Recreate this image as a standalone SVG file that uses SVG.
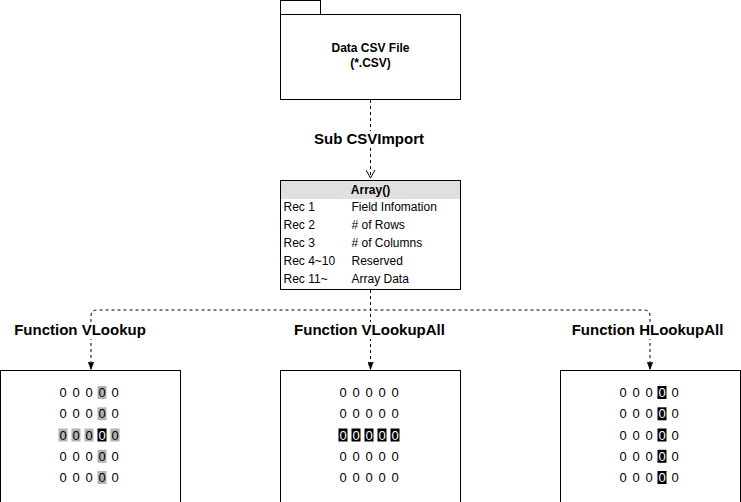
<svg xmlns="http://www.w3.org/2000/svg" width="741" height="502" viewBox="0 0 741 502">
<style>
  .box{fill:#ffffff;stroke:#000000;stroke-width:1}
  .lbl{font-family:"Liberation Sans",Arial,sans-serif;font-weight:bold;font-size:15px;fill:#000;text-anchor:middle}
  .lblbg{fill:#ffffff}
  .t12{font-family:"Liberation Sans",Arial,sans-serif;font-size:12px;fill:#000}
  .b12{font-family:"Liberation Sans",Arial,sans-serif;font-size:12px;font-weight:bold;fill:#000;text-anchor:middle}
  .dg{font-family:"Liberation Sans",Arial,sans-serif;font-size:13px;fill:#000;text-anchor:middle}
  .dw{font-family:"Liberation Sans",Arial,sans-serif;font-size:13px;fill:#fff;text-anchor:middle}
  .conn{fill:none;stroke:#000;stroke-width:1;stroke-dasharray:3 3}
  .hg{fill:#b3b3b3}
  .hb{fill:#000}
</style>
<defs>
  <marker id="open" viewBox="0 0 10 10" refX="9" refY="5" markerWidth="10" markerHeight="10" markerUnits="userSpaceOnUse" orient="auto">
    <path d="M1,0.5 L9,5 L1,9.5" fill="none" stroke="#000" stroke-width="1"/>
  </marker>
  <marker id="block" viewBox="0 0 8 6" refX="7.5" refY="3" markerWidth="8" markerHeight="6" markerUnits="userSpaceOnUse" orient="auto">
    <path d="M0,0 L8,3 L0,6 L1.5,3 Z" fill="#000" stroke="#000" stroke-width="0.5"/>
  </marker>
</defs>

<g id="data-csv-file">
  <rect class="box" x="280.5" y="0.5" width="40" height="14"/>
  <rect class="box" x="280.5" y="14.5" width="180" height="85"/>
  <text class="b12" x="370.5" y="52">Data CSV File</text>
  <text class="b12" x="370.5" y="66.5">(*.CSV)</text>
</g>

<g id="array">
  <rect class="box" x="280.5" y="180.5" width="180" height="109"/>
  <rect x="281" y="181" width="179" height="18" fill="#e0e0e0"/>
  <text class="b12" x="370.5" y="194">Array()</text>
  <text class="t12" x="283.5" y="210.5">Rec 1</text>
  <text class="t12" x="351.5" y="210.5">Field Infomation</text>
  <text class="t12" x="283.5" y="228.5">Rec 2</text>
  <text class="t12" x="351.5" y="228.5"># of Rows</text>
  <text class="t12" x="283.5" y="246.5">Rec 3</text>
  <text class="t12" x="351.5" y="246.5"># of Columns</text>
  <text class="t12" x="283.5" y="264.5">Rec 4~10</text>
  <text class="t12" x="351.5" y="264.5">Reserved</text>
  <text class="t12" x="283.5" y="282.5">Rec 11~</text>
  <text class="t12" x="351.5" y="282.5">Array Data</text>
</g>

<g id="connectors">
  <path class="conn" d="M370.5,100 V178" marker-end="url(#open)"/>
  <path class="conn" d="M370.5,290 V310 H97 Q91,310 91,316 V369" marker-end="url(#block)"/>
  <path class="conn" d="M370.5,290 V369" marker-end="url(#block)"/>
  <path class="conn" d="M370.5,290 V310 H644 Q650,310 650,316 V369" marker-end="url(#block)"/>
</g>

<g id="labels">
  <rect class="lblbg" x="314" y="131" width="110" height="17"/>
  <text class="lbl" x="369" y="144">Sub CSVImport</text>
  <rect class="lblbg" x="13" y="322" width="134" height="17"/>
  <text class="lbl" x="80" y="335">Function VLookup</text>
  <rect class="lblbg" x="294" y="322" width="151" height="17"/>
  <text class="lbl" x="369.5" y="335">Function VLookupAll</text>
  <rect class="lblbg" x="571" y="322" width="153" height="17"/>
  <text class="lbl" x="647.5" y="335">Function HLookupAll</text>
</g>

<g id="vlookup">
  <rect class="box" x="0.5" y="370.5" width="180" height="140"/>
  <rect class="hg" x="97.5" y="386" width="9" height="13"/>
  <rect class="hg" x="97.5" y="407.3" width="9" height="13"/>
  <rect class="hg" x="58.5" y="428.5" width="9" height="13"/>
  <rect class="hg" x="71.5" y="428.5" width="9" height="13"/>
  <rect class="hg" x="84.5" y="428.5" width="9" height="13"/>
  <rect class="hb" x="97.5" y="428.5" width="9" height="13"/>
  <rect class="hg" x="110.5" y="428.5" width="9" height="13"/>
  <rect class="hg" x="97.5" y="449.8" width="9" height="13"/>
  <rect class="hg" x="97.5" y="471" width="9" height="13"/>
  <g class="dg">
    <text x="63" y="397">0</text><text x="76" y="397">0</text><text x="89" y="397">0</text><text x="102" y="397">0</text><text x="115" y="397">0</text>
    <text x="63" y="418.3">0</text><text x="76" y="418.3">0</text><text x="89" y="418.3">0</text><text x="102" y="418.3">0</text><text x="115" y="418.3">0</text>
    <text x="63" y="439.5">0</text><text x="76" y="439.5">0</text><text x="89" y="439.5">0</text><text x="115" y="439.5">0</text>
    <text x="63" y="460.8">0</text><text x="76" y="460.8">0</text><text x="89" y="460.8">0</text><text x="102" y="460.8">0</text><text x="115" y="460.8">0</text>
    <text x="63" y="482">0</text><text x="76" y="482">0</text><text x="89" y="482">0</text><text x="102" y="482">0</text><text x="115" y="482">0</text>
  </g>
  <text class="dw" x="102" y="439.5">0</text>
</g>

<g id="vlookupall">
  <rect class="box" x="280.5" y="370.5" width="180" height="140"/>
  <rect class="hb" x="338.5" y="428.5" width="9" height="13"/>
  <rect class="hb" x="351.5" y="428.5" width="9" height="13"/>
  <rect class="hb" x="364.5" y="428.5" width="9" height="13"/>
  <rect class="hb" x="377.5" y="428.5" width="9" height="13"/>
  <rect class="hb" x="390.5" y="428.5" width="9" height="13"/>
  <g class="dg">
    <text x="343" y="397">0</text><text x="356" y="397">0</text><text x="369" y="397">0</text><text x="382" y="397">0</text><text x="395" y="397">0</text>
    <text x="343" y="418.3">0</text><text x="356" y="418.3">0</text><text x="369" y="418.3">0</text><text x="382" y="418.3">0</text><text x="395" y="418.3">0</text>
    <text x="343" y="460.8">0</text><text x="356" y="460.8">0</text><text x="369" y="460.8">0</text><text x="382" y="460.8">0</text><text x="395" y="460.8">0</text>
    <text x="343" y="482">0</text><text x="356" y="482">0</text><text x="369" y="482">0</text><text x="382" y="482">0</text><text x="395" y="482">0</text>
  </g>
  <g class="dw">
    <text x="343" y="439.5">0</text><text x="356" y="439.5">0</text><text x="369" y="439.5">0</text><text x="382" y="439.5">0</text><text x="395" y="439.5">0</text>
  </g>
</g>

<g id="hlookupall">
  <rect class="box" x="560.5" y="370.5" width="180" height="140"/>
  <rect class="hb" x="657.5" y="386" width="9" height="13"/>
  <rect class="hb" x="657.5" y="407.3" width="9" height="13"/>
  <rect class="hb" x="657.5" y="428.5" width="9" height="13"/>
  <rect class="hb" x="657.5" y="449.8" width="9" height="13"/>
  <rect class="hb" x="657.5" y="471" width="9" height="13"/>
  <g class="dg">
    <text x="623" y="397">0</text><text x="636" y="397">0</text><text x="649" y="397">0</text><text x="675" y="397">0</text>
    <text x="623" y="418.3">0</text><text x="636" y="418.3">0</text><text x="649" y="418.3">0</text><text x="675" y="418.3">0</text>
    <text x="623" y="439.5">0</text><text x="636" y="439.5">0</text><text x="649" y="439.5">0</text><text x="675" y="439.5">0</text>
    <text x="623" y="460.8">0</text><text x="636" y="460.8">0</text><text x="649" y="460.8">0</text><text x="675" y="460.8">0</text>
    <text x="623" y="482">0</text><text x="636" y="482">0</text><text x="649" y="482">0</text><text x="675" y="482">0</text>
  </g>
  <g class="dw">
    <text x="662" y="397">0</text><text x="662" y="418.3">0</text><text x="662" y="439.5">0</text><text x="662" y="460.8">0</text><text x="662" y="482">0</text>
  </g>
</g>
</svg>
